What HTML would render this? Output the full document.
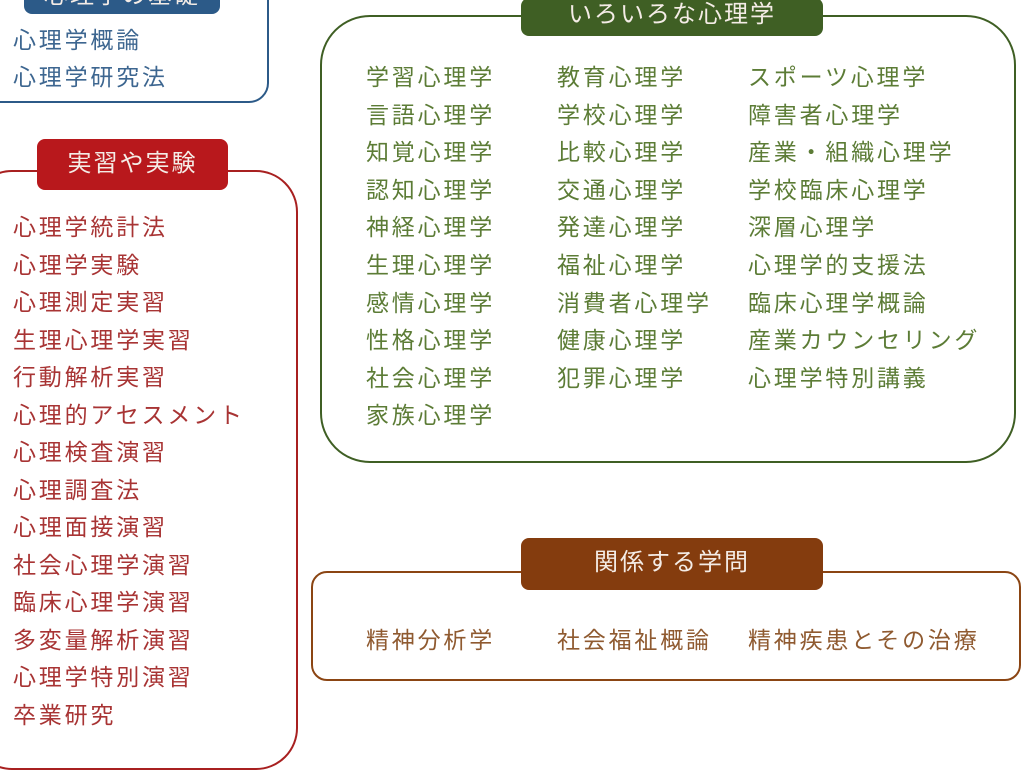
<!DOCTYPE html>
<html><head><meta charset="utf-8"><style>
body{margin:0;width:1024px;height:718px;overflow:hidden;background:#fff;position:relative;font-family:"Liberation Sans","Noto Sans CJK JP",sans-serif}
.b{position:absolute;box-sizing:border-box;background:#fff}
.t{position:absolute;box-sizing:border-box;color:#f4ece6;font-size:24px;text-align:center;border-radius:8px;letter-spacing:2px}
.i{position:absolute;font-size:23px;line-height:24px;letter-spacing:2.8px;white-space:nowrap;z-index:5}
</style></head><body>
<div class="b" style="left:-30px;top:-20px;width:299px;height:123px;border:2px solid #2c5a88;border-radius:20px"></div>
<div class="t" style="left:24px;top:-22px;width:196px;height:36px;background:#2c5a88;line-height:36px">心理学の基礎</div>
<div class="i" style="left:13px;top:28px;color:#3d6690">心理学概論</div>
<div class="i" style="left:13px;top:65px;color:#3d6690">心理学研究法</div>

<div class="b" style="left:-30px;top:170px;width:328px;height:600px;border:2px solid #a82020;border-radius:42px"></div>
<div class="t" style="left:37px;top:139px;width:191px;height:51px;background:#b8181c;line-height:50px">実習や実験</div>

<div class="b" style="left:320px;top:15px;width:696px;height:448px;border:2px solid #3f5f24;border-radius:50px"></div>
<div class="t" style="left:521px;top:-2px;width:302px;height:38px;background:#3f5f24;line-height:34px">いろいろな心理学</div>

<div class="b" style="left:311px;top:571px;width:710px;height:110px;border:2px solid #8b4513;border-radius:16px"></div>
<div class="t" style="left:521px;top:538px;width:302px;height:52px;background:#843c0e;line-height:50px">関係する学問</div>
<div class="i" style="left:366px;top:628px;color:#8f5a30">精神分析学</div>
<div class="i" style="left:557px;top:628px;color:#8f5a30">社会福祉概論</div>
<div class="i" style="left:748px;top:628px;color:#8f5a30">精神疾患とその治療</div>
<div id="items"></div>
<script>
var r=["心理学統計法","心理学実験","心理測定実習","生理心理学実習","行動解析実習","心理的アセスメント","心理検査演習","心理調査法","心理面接演習","社会心理学演習","臨床心理学演習","多変量解析演習","心理学特別演習","卒業研究"];
var h="";r.forEach(function(s,k){h+='<div class="i" style="left:13px;top:'+(215+k*37.5)+'px;color:#a83434">'+s+'</div>';});
var c=[["学習心理学","言語心理学","知覚心理学","認知心理学","神経心理学","生理心理学","感情心理学","性格心理学","社会心理学","家族心理学"],["教育心理学","学校心理学","比較心理学","交通心理学","発達心理学","福祉心理学","消費者心理学","健康心理学","犯罪心理学"],["スポーツ心理学","障害者心理学","産業・組織心理学","学校臨床心理学","深層心理学","心理学的支援法","臨床心理学概論","産業カウンセリング","心理学特別講義"]];
var xs=[366,557,748];
c.forEach(function(col,j){col.forEach(function(s,k){h+='<div class="i" style="left:'+xs[j]+'px;top:'+(65+k*37.6)+'px;color:#5c7c36">'+s+'</div>';});});
document.getElementById("items").innerHTML=h;
</script>
</body></html>
